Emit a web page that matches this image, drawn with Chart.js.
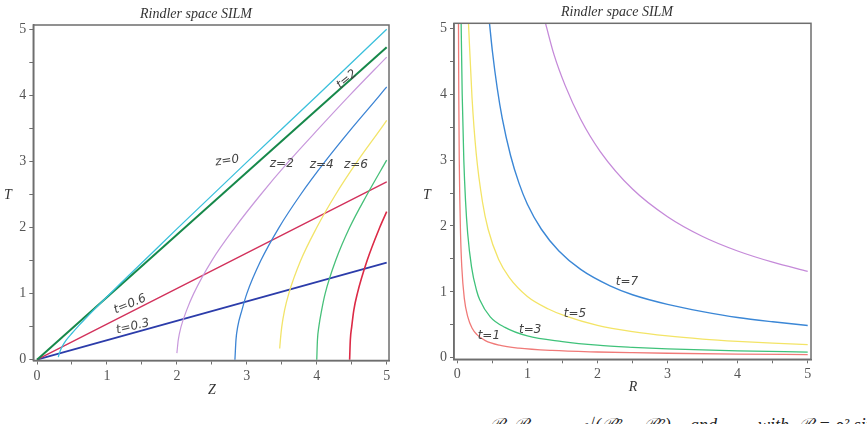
<!DOCTYPE html>
<html><head><meta charset="utf-8">
<script src="https://cdn.jsdelivr.net/npm/chart.js@4.4.0/dist/chart.umd.min.js"></script>
<style>
html,body{margin:0;padding:0;background:#fff;width:867px;height:424px;overflow:hidden;position:relative;}
.box{position:absolute;top:0;}
.txt{position:absolute;font-family:"Liberation Serif","DejaVu Serif",serif;font-style:italic;color:#333;white-space:pre;line-height:1;transform:translate(-50%,-50%);}
.fx{position:absolute;top:415px;font-family:"Liberation Serif","DejaVu Serif",serif;font-style:italic;color:#222;white-space:pre;line-height:20px;font-size:18px;}
</style></head><body>
<div class="box" style="left:0;width:430px;height:410px"><canvas id="c1" width="430" height="410"></canvas></div>
<div class="box" style="left:430px;width:437px;height:410px"><canvas id="c2" width="437" height="410"></canvas></div>
<div class="txt" style="left:196px;top:14px;font-size:14px">Rindler space SILM</div>
<div class="txt" style="left:617px;top:12px;font-size:14px">Rindler space SILM</div>
<div class="txt" style="left:8px;top:195px;font-size:14px">T</div>
<div class="txt" style="left:427px;top:195px;font-size:14px">T</div>
<div class="txt" style="left:212px;top:390px;font-size:14px">Z</div>
<div class="txt" style="left:633px;top:387px;font-size:14px">R</div>
<div class="fx" style="left:489px">ℛ</div>
<div class="fx" style="left:513px">ℛ</div>
<div class="fx" style="left:585px">√(ℛ² − ℛ²)</div>
<div class="fx" style="left:690px">and</div>
<div class="fx" style="left:758px">with</div>
<div class="fx" style="left:798px">ℛ = ρ² sinh²(t)</div>
<script>
// ---------- Left panel data (Z, T) ----------
const AXIS_TICKS = [0, 0.5, 1, 1.5, 2, 2.5, 3, 3.5, 4, 4.5, 5];
const LINE_T03 = [[0, 0], [5, 1.47]];
const LINE_T06 = [[0, 0], [5, 2.69]];
const LINE_T2 = [[0, 0], [5, 4.73]];
const HYP_Z0 = [[0.305,0.04],[0.32,0.1],[0.36,0.2],[0.42,0.3],[0.5,0.4],[0.6,0.52],[0.7,0.63],[0.8,0.74],[0.95,0.9],[1.2,1.16],[1.6,1.57],[2.0,1.98],[3.0,2.99],[4.0,3.99],[5.0,5.0]];
const HYP_Z2 = [[2.0,0.1],[2.02,0.3],[2.06,0.5],[2.14,0.75],[2.24,1.0],[2.5,1.5],[2.83,2.0],[3.2,2.5],[3.6,3.0],[4.03,3.5],[4.47,4.0],[5.0,4.58]];
const HYP_Z4 = [[2.83,0.0],[2.845,0.3],[2.87,0.5],[2.93,0.75],[3.0,1.0],[3.2,1.5],[3.46,2.0],[3.77,2.5],[4.12,3.0],[4.5,3.5],[4.9,4.0],[5.0,4.13]];
const HYP_Z6 = [[3.47,0.17],[3.48,0.3],[3.5,0.5],[3.54,0.75],[3.6,1.0],[3.77,1.5],[4.0,2.0],[4.27,2.5],[4.58,3.0],[4.92,3.5],[5.0,3.62]];
const HYP_Z8 = [[4.0,0.0],[4.01,0.3],[4.03,0.5],[4.07,0.75],[4.12,1.0],[4.27,1.5],[4.47,2.0],[4.72,2.5],[5.0,3.02]];
const HYP_Z10 = [[4.47,0.0],[4.48,0.3],[4.5,0.5],[4.53,0.75],[4.58,1.0],[4.72,1.5],[4.9,2.0],[5.0,2.24]];
const LEFT_LABEL_TEXT = ['z=0', 'z=2', 'z=4', 'z=6', 't=2', 't=0.6', 't=0.3'];

// ---------- Right panel data (R, T) ----------
const CURVE_T1 = [[0.017,5.07],[0.021,4.0],[0.028,3.0],[0.036,2.39],[0.046,1.89],[0.064,1.38],[0.1,0.9],[0.15,0.62],[0.21,0.45],[0.28,0.35],[0.4,0.26],[0.6,0.19],[0.88,0.145],[1.35,0.11],[2.0,0.087],[2.5,0.076],[3.0,0.068],[4.0,0.056],[5.0,0.048]];
const CURVE_T3 = [[0.055,5.07],[0.07,4.0],[0.093,3.0],[0.117,2.39],[0.148,1.89],[0.203,1.38],[0.275,1.02],[0.32,0.88],[0.47,0.62],[0.68,0.46],[1.0,0.33],[1.5,0.245],[2.0,0.19],[2.5,0.158],[3.0,0.135],[4.0,0.104],[5.0,0.086]];
const CURVE_T5 = [[0.16,5.07],[0.21,3.95],[0.27,3.1],[0.36,2.36],[0.44,1.95],[0.59,1.49],[0.74,1.22],[1.0,0.93],[1.3,0.74],[1.55,0.63],[2.0,0.49],[2.5,0.395],[3.0,0.33],[3.5,0.283],[4.0,0.248],[4.5,0.22],[5.0,0.198]];
const CURVE_T7 = [[0.46,5.07],[0.5,4.66],[0.57,4.09],[0.64,3.64],[0.76,3.07],[0.88,2.65],[1.0,2.33],[1.2,1.95],[1.45,1.62],[1.76,1.34],[2.18,1.09],[2.5,0.956],[3.0,0.81],[3.5,0.70],[4.0,0.61],[4.5,0.545],[5.0,0.49]];
const CURVE_T9 = [[1.26,5.07],[1.38,4.6],[1.54,4.13],[1.76,3.62],[2.04,3.13],[2.5,2.56],[3.0,2.14],[3.5,1.84],[4.0,1.62],[4.5,1.45],[5.0,1.31]];
const RIGHT_LABEL_TEXT = ['t=7', 't=5', 't=3', 't=1'];

// ---------- styling / placement ----------
const SERIF = '"Liberation Serif", "DejaVu Serif", serif';
const AXIS_COLOR = '#6e6e6e';
const LEFT_LABEL_PLACE = [
  {x: 2.72, y: 3.01, rot: -8}, {x: 3.50, y: 2.96, rot: 0}, {x: 4.07, y: 2.95, rot: 0}, {x: 4.56, y: 2.95, rot: 0},
  {x: 4.43, y: 4.24, rot: -40}, {x: 1.33, y: 0.84, rot: -22}, {x: 1.37, y: 0.50, rot: -13}
];
const RIGHT_LABEL_PLACE = [
  {x: 2.42, y: 1.15, rot: 0}, {x: 1.68, y: 0.66, rot: 0}, {x: 1.04, y: 0.42, rot: 0}, {x: 0.45, y: 0.33, rot: 0}
];

const toXY = arr => arr.map(p => ({x: p[0], y: p[1]}));
const ds = (data, color, width) => ({
  data: toXY(data), showLine: true, borderColor: color, backgroundColor: color,
  borderWidth: width, pointRadius: 0, pointHoverRadius: 0, cubicInterpolationMode: 'monotone', fill: false
});

const framePlugin = {
  id: 'frame',
  afterDraw(chart) {
    const {ctx, chartArea: a} = chart;
    ctx.save(); ctx.strokeStyle = AXIS_COLOR; ctx.lineWidth = 1.5;
    ctx.strokeRect(a.left, a.top, a.right - a.left, a.bottom - a.top);
    ctx.restore();
  }
};
const labelPlugin = {
  id: 'curveLabels',
  afterDatasetsDraw(chart, args, opts) {
    const {ctx} = chart; const xs = chart.scales.x, ys = chart.scales.y;
    ctx.save(); ctx.font = opts.font; ctx.fillStyle = opts.color;
    ctx.textAlign = 'center'; ctx.textBaseline = 'middle';
    (opts.texts || []).forEach((t, i) => {
      const p = opts.places[i];
      ctx.save();
      ctx.translate(xs.getPixelForValue(p.x), ys.getPixelForValue(p.y));
      ctx.rotate(p.rot * Math.PI / 180);
      ctx.fillText(t, 0, 0);
      ctx.restore();
    });
    ctx.restore();
  }
};

function axis(min, max, fitKey, fitVal) {
  return {
    type: 'linear', min, max,
    afterBuildTicks: s => { s.ticks = AXIS_TICKS.map(v => ({value: v})); },
    afterFit: s => { s[fitKey] = fitVal; },
    ticks: {
      autoSkip: false, maxRotation: 0, padding: 3, color: '#555',
      font: {family: SERIF, size: 14},
      callback: v => Number.isInteger(v) ? String(v) : ''
    },
    grid: {display: true, drawOnChartArea: false, drawTicks: true, tickLength: 4, color: AXIS_COLOR, lineWidth: 1},
    border: {display: true, color: AXIS_COLOR, width: 1.5}
  };
}

function make(id, datasets, padding, xr, yr, yWidth, texts, places) {
  return new Chart(document.getElementById(id), {
    type: 'scatter',
    data: {datasets},
    options: {
      responsive: false, animation: false, devicePixelRatio: 1,
      layout: {padding},
      plugins: {legend: {display: false}, tooltip: {enabled: false}, title: {display: false},
        curveLabels: {texts, places, font: 'italic 12px "DejaVu Sans", sans-serif', color: '#444'}},
      scales: {
        x: axis(xr[0], xr[1], 'height', 30),
        y: axis(yr[0], yr[1], 'width', yWidth)
      }
    },
    plugins: [framePlugin, labelPlugin]
  });
}

make('c1', [
  ds(HYP_Z0, '#3cc0dc', 1.3),
  ds(HYP_Z2, '#c898dc', 1.2),
  ds(HYP_Z4, '#3c84d4', 1.3),
  ds(HYP_Z6, '#f2e46a', 1.3),
  ds(HYP_Z8, '#48c07a', 1.3),
  ds(HYP_Z10, '#dc2a46', 1.6),
  ds(LINE_T2, '#16884a', 2.0),
  ds(LINE_T06, '#d2325c', 1.4),
  ds(LINE_T03, '#2c3caa', 1.8)
], {top: 25, left: 0, right: 41, bottom: 19.5}, [-0.053, 5.033], [-0.012, 5.065], 33.3, LEFT_LABEL_TEXT, LEFT_LABEL_PLACE);

make('c2', [
  ds(CURVE_T9, '#c58ad9', 1.3),
  ds(CURVE_T7, '#3b87d6', 1.4),
  ds(CURVE_T5, '#f3e466', 1.3),
  ds(CURVE_T3, '#3fc27a', 1.3),
  ds(CURVE_T1, '#f07a78', 1.3)
], {top: 23.3, left: 0, right: 56, bottom: 20.7}, [-0.047, 5.047], [-0.024, 5.076], 24, RIGHT_LABEL_TEXT, RIGHT_LABEL_PLACE);
</script>
</body></html>
